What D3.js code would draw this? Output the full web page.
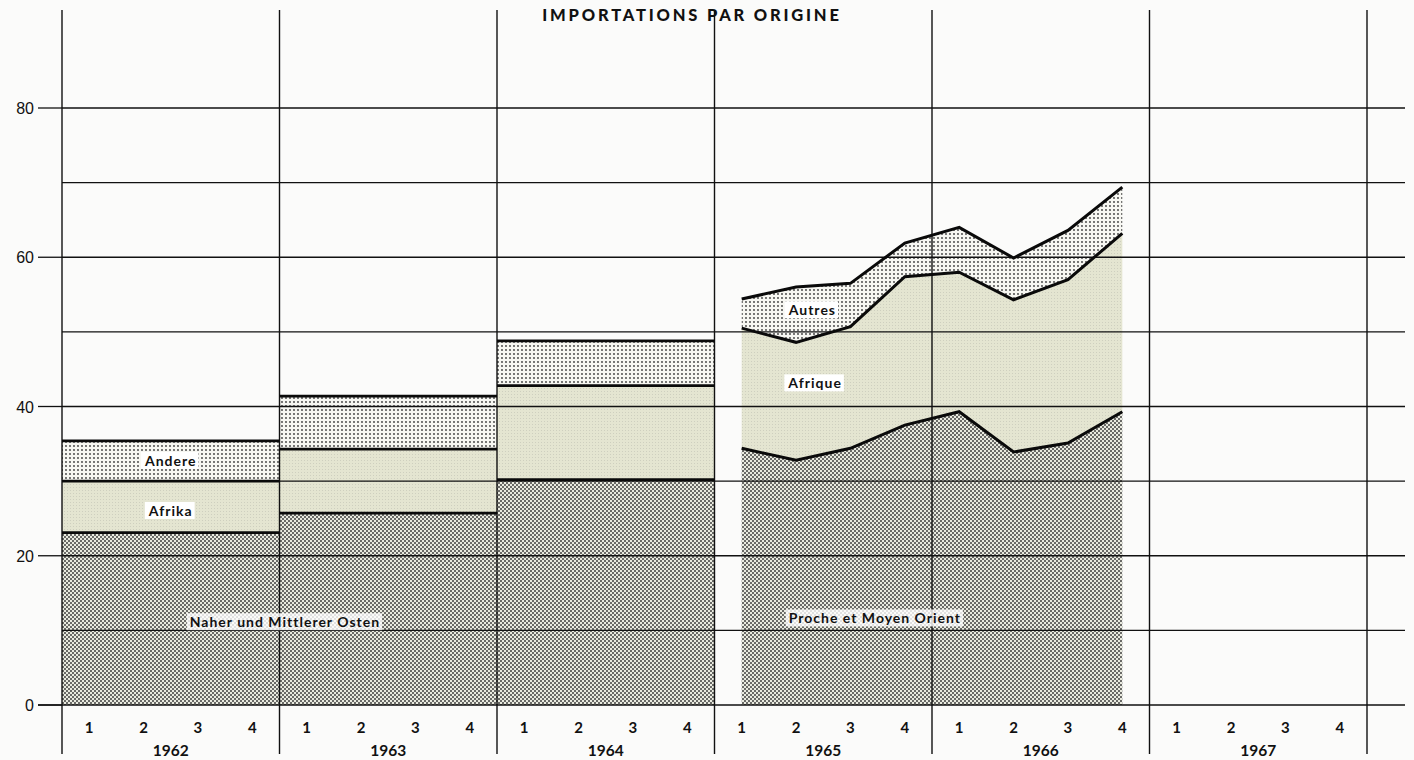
<!DOCTYPE html>
<html>
<head>
<meta charset="utf-8">
<script src="https://cdn.jsdelivr.net/npm/d3@7/dist/d3.min.js"></script>
<style>
  html, body { margin: 0; padding: 0; background: #fbfbfa; }
  svg { display: block; }
  text { font-family: Lato, "Open Sans", sans-serif; fill: #111; }
</style>
</head>
<body>
<div id="chart"></div>
<script>
// annual values 1962-1964 (stacked)
var annualYears = [1962, 1963, 1964];
var annualNMO = [23.1, 25.7, 30.2];
var annualAfrica = [6.9, 8.6, 12.6];
var annualOther = [5.4, 7.1, 6.0];

// quarterly values 1965 Q1 .. 1966 Q4
var quarterLabels = ["1965-1", "1965-2", "1965-3", "1965-4", "1966-1", "1966-2", "1966-3", "1966-4"];
var quarterNMO = [34.4, 32.8, 34.4, 37.5, 39.3, 33.9, 35.1, 39.3];
var quarterAfrica = [16.1, 15.8, 16.3, 19.9, 18.7, 20.4, 21.9, 23.9];
var quarterOther = [3.9, 7.4, 5.8, 4.5, 6.0, 5.6, 6.6, 6.2];

var years = [1962, 1963, 1964, 1965, 1966, 1967];
var quarterTicks = ["1", "2", "3", "4"];
var yTicks = [0, 20, 40, 60, 80];
var yGrid = [10, 20, 30, 40, 50, 60, 70, 80];
var title = "IMPORTATIONS PAR ORIGINE";

var width = 1414, height = 760;
var keys = ["nmo", "africa", "other"];

var svg = d3.select("#chart").append("svg")
    .attr("width", width)
    .attr("height", height);

// textures
var defs = svg.append("defs");
var p1 = defs.append("pattern").attr("id", "texNMO")
    .attr("width", 4).attr("height", 4).attr("patternUnits", "userSpaceOnUse");
p1.append("rect").attr("width", 4).attr("height", 4).attr("fill", "#e9eadf");
p1.append("circle").attr("cx", 1).attr("cy", 1).attr("r", 0.95).attr("fill", "#333");
p1.append("circle").attr("cx", 3).attr("cy", 3).attr("r", 0.95).attr("fill", "#333");

var p2 = defs.append("pattern").attr("id", "texAfrica")
    .attr("width", 3).attr("height", 3).attr("patternUnits", "userSpaceOnUse");
p2.append("rect").attr("width", 3).attr("height", 3).attr("fill", "#e4e5d1");
p2.append("circle").attr("cx", 1.5).attr("cy", 1.5).attr("r", 0.45).attr("fill", "#b8b8ad");

var p3 = defs.append("pattern").attr("id", "texOther")
    .attr("width", 4).attr("height", 4).attr("patternUnits", "userSpaceOnUse");
p3.append("rect").attr("width", 4).attr("height", 4).attr("fill", "#f7f7f2");
p3.append("circle").attr("cx", 2).attr("cy", 2).attr("r", 0.9).attr("fill", "#3a3a3a");

var fills = { nmo: "url(#texNMO)", africa: "url(#texAfrica)", other: "url(#texOther)" };

// time in quarters from start of 1962
var x = d3.scaleLinear().domain([0, 24]).range([62, 1367]);
var y = d3.scaleLinear().domain([0, 80]).range([705, 108]);

var annualRows = annualYears.map((yr, i) => ({
    t: i * 4, nmo: annualNMO[i], africa: annualAfrica[i], other: annualOther[i]
}));
var quarterRows = quarterLabels.map((q, i) => ({
    t: 12.5 + i, nmo: quarterNMO[i], africa: quarterAfrica[i], other: quarterOther[i]
}));

var stack = d3.stack().keys(keys);
var annualStack = stack(annualRows);
var quarterStack = stack(quarterRows);

var area = d3.area()
    .x(d => x(d.t))
    .y0(d => y(d[0]))
    .y1(d => y(d[1]));
var topLine = d3.line()
    .x(d => x(d.t))
    .y(d => y(d[1]));

var plot = svg.append("g");

// annual blocks: each year spans four quarters
annualStack.forEach(function (layer) {
    var steps = [];
    layer.forEach(function (d) {
        var a = [d[0], d[1]]; a.t = d.data.t;
        var b = [d[0], d[1]]; b.t = d.data.t + 4;
        steps.push(a, b);
    });
    plot.append("path")
        .attr("d", area(steps))
        .attr("fill", fills[layer.key]);
});

// quarterly areas
quarterStack.forEach(function (layer) {
    var pts = layer.map(d => { var p = [d[0], d[1]]; p.t = d.data.t; return p; });
    plot.append("path")
        .attr("d", area(pts))
        .attr("fill", fills[layer.key]);
});

// grid
var grid = svg.append("g").attr("stroke", "#111").attr("fill", "none");
grid.selectAll("line.h")
    .data(yGrid)
    .enter().append("line")
    .attr("x1", x(0)).attr("x2", 1405)
    .attr("y1", d => y(d)).attr("y2", d => y(d))
    .attr("stroke-width", 1.3);
grid.append("line")
    .attr("x1", 38).attr("x2", 1405)
    .attr("y1", y(0)).attr("y2", y(0))
    .attr("stroke-width", 1.5);
grid.selectAll("line.tick")
    .data(yTicks)
    .enter().append("line")
    .attr("x1", 38).attr("x2", x(0))
    .attr("y1", d => y(d)).attr("y2", d => y(d))
    .attr("stroke-width", 1.3);
grid.selectAll("line.v")
    .data(d3.range(0, 25, 4))
    .enter().append("line")
    .attr("x1", d => x(d)).attr("x2", d => x(d))
    .attr("y1", 10).attr("y2", 754)
    .attr("stroke-width", 1.4);

// layer boundary lines
var bounds = svg.append("g").attr("fill", "none").attr("stroke", "#0a0a0a");
annualStack.forEach(function (layer) {
    layer.forEach(function (d) {
        var a = [d[0], d[1]]; a.t = d.data.t;
        var b = [d[0], d[1]]; b.t = d.data.t + 4;
        bounds.append("path")
            .attr("d", topLine([a, b]))
            .attr("stroke-width", 2.8);
    });
});
quarterStack.forEach(function (layer) {
    var pts = layer.map(d => { var p = [d[0], d[1]]; p.t = d.data.t; return p; });
    bounds.append("path")
        .attr("d", topLine(pts))
        .attr("stroke-width", 3)
        .attr("stroke-linejoin", "miter");
});

// y axis labels
svg.append("g").selectAll("text")
    .data(yTicks)
    .enter().append("text")
    .attr("x", 34).attr("y", d => y(d) + 6)
    .attr("text-anchor", "end")
    .style("font-family", "'Liberation Sans', Arial, sans-serif")
    .style("font-size", "16px")
    .text(d => d);

// x axis labels
var xl = svg.append("g");
years.forEach(function (yr, i) {
    quarterTicks.forEach(function (q, j) {
        xl.append("text")
            .attr("x", x(i * 4 + j + 0.5))
            .attr("y", 733)
            .attr("text-anchor", "middle")
            .style("font-size", "15px")
            .style("font-weight", "bold")
            .text(q);
    });
    xl.append("text")
        .attr("x", x(i * 4 + 2))
        .attr("y", 756)
        .attr("text-anchor", "middle")
        .style("font-size", "15.5px")
        .style("font-weight", "bold")
        .text(yr);
});

// title
svg.append("text")
    .attr("x", 692).attr("y", 21)
    .attr("text-anchor", "middle")
    .style("font-size", "16.5px")
    .style("font-weight", "900")
    .style("letter-spacing", "2.8px")
    .text(title);

// series labels, placed in data coordinates
var labels = [
    { text: "Andere", t: 2, v: 32.7, box: true },
    { text: "Afrika", t: 2, v: 26.0, box: true },
    { text: "Naher und Mittlerer Osten", t: 4.1, v: 11.1, box: false },
    { text: "Autres", t: 13.8, v: 52.9, box: true },
    { text: "Afrique", t: 13.85, v: 43.1, box: true },
    { text: "Proche et Moyen Orient", t: 14.95, v: 11.6, box: false }
];
var lg = svg.append("g");
labels.forEach(function (l) {
    var t = lg.append("text")
        .attr("x", x(l.t)).attr("y", y(l.v) + 5)
        .attr("text-anchor", "middle")
        .style("font-size", "14px")
        .style("font-weight", "bold")
        .style("letter-spacing", "1px")
        .text(l.text);
    var bb = t.node().getBBox();
    lg.insert("rect", "text")
        .attr("x", bb.x - 3).attr("y", bb.y)
        .attr("width", bb.width + 5).attr("height", bb.height)
        .attr("fill", "#fff")
        .attr("opacity", l.box ? 1 : 0.8);
});
</script>
</body>
</html>
